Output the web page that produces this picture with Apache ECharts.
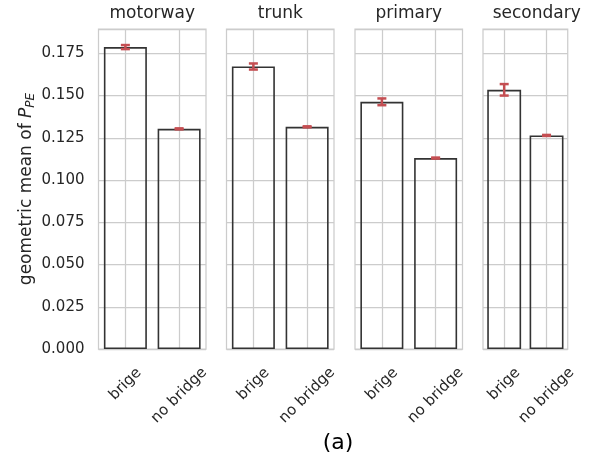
<!DOCTYPE html>
<html>
<head>
<meta charset="utf-8">
<script src="https://cdn.jsdelivr.net/npm/echarts@6/dist/echarts.min.js"></script>
<style>html,body{margin:0;padding:0;background:#fff}#c{width:604px;height:458px}</style>
</head>
<body>
<div id="c"></div>
<script>
const panels = ['motorway', 'trunk', 'primary', 'secondary'];
const categories = ['brige', 'no bridge'];
const brigeMean = [0.1787, 0.1672, 0.1463, 0.1534];
const noBridgeMean = [0.1303, 0.1315, 0.1130, 0.1264];
const brigeErr = [0.0012, 0.0018, 0.0020, 0.0034];
const noBridgeErr = [0.0003, 0.0003, 0.0003, 0.0003];
const yTicks = [0, 0.025, 0.05, 0.075, 0.1, 0.125, 0.15, 0.175];

const FONT = 'DejaVu Sans';
const TXT = '#262626';
const GRIDC = '#cccccc';
const lefts = [98.5, 226.5, 355, 483];
const W = 107.5, TOP = 29, H = 320;
const YMAX = 0.1894;

const chart = echarts.init(document.getElementById('c'), null, {renderer: 'canvas'});

const grids = [], xAxes = [], yAxes = [], series = [], titles = [];
panels.forEach((p, i) => {
  grids.push({left: lefts[i], top: TOP, width: W, height: H, show: true,
    borderColor: GRIDC, borderWidth: 1.25, backgroundColor: 'transparent', containLabel: false});
  titles.push({text: p, left: lefts[i] + W / 2, top: 5, textAlign: 'center', padding: 0,
    textStyle: {fontFamily: FONT, fontSize: 17, fontWeight: 'normal', color: TXT}});
  xAxes.push({type: 'category', gridIndex: i, data: categories,
    axisLine: {show: false}, axisTick: {show: false}, splitLine: {show: false},
    axisLabel: {interval: 0, rotate: 45, margin: 16, align: 'center', verticalAlign: 'middle',
      fontFamily: FONT, fontSize: 15, color: TXT,
      formatter: v => v === 'brige' ? '{a|' + v + '}' : '{b|' + v + '}',
      rich: {
        a: {fontFamily: FONT, fontSize: 15, lineHeight: 15, color: TXT, padding: [27, 27, 0, 0]},
        b: {fontFamily: FONT, fontSize: 15, lineHeight: 15, color: TXT, padding: [43, 43, 0, 0]}
      }}
  });
  const y = {type: 'value', gridIndex: i, min: 0, max: YMAX, interval: 0.025,
    axisLine: {show: false}, axisTick: {show: false},
    splitLine: {show: true, lineStyle: {color: GRIDC, width: 1.25}},
    axisLabel: {show: i === 0, showMaxLabel: false, margin: 14, fontFamily: FONT, fontSize: 15, color: TXT,
      formatter: v => yTicks.some(t => Math.abs(t - v) < 1e-9) ? v.toFixed(3) : ''}
  };
  if (i === 0) {
    y.name = 'geometric mean of {p|P}{s|PE}';
    y.nameLocation = 'middle';
    y.nameGap = 62;
    y.nameTextStyle = {fontFamily: FONT, fontSize: 17, color: TXT,
      rich: {
        p: {fontFamily: FONT, fontSize: 17, fontStyle: 'italic', color: TXT},
        s: {fontFamily: FONT, fontSize: 12, fontStyle: 'italic', color: TXT, verticalAlign: 'bottom', padding: [8, 0, 0, 0]}
      }};
  }
  yAxes.push(y);
  series.push({
    type: 'bar', xAxisIndex: i, yAxisIndex: i, barWidth: '80%', z: 2,
    data: [brigeMean[i], noBridgeMean[i]],
    itemStyle: {color: 'rgba(0,0,0,0)', borderColor: '#333333', borderWidth: 1.6},
    emphasis: {disabled: true},
    markLine: {silent: true, symbol: ['none', 'none'], z: 1, label: {show: false},
      lineStyle: {color: GRIDC, type: 'solid', width: 1.25},
      emphasis: {disabled: true},
      data: [{xAxis: 'brige'}, {xAxis: 'no bridge'}]}
  });
  series.push({
    type: 'custom', xAxisIndex: i, yAxisIndex: i, z: 5,
    data: [[0, brigeMean[i] - brigeErr[i], brigeMean[i] + brigeErr[i]],
           [1, noBridgeMean[i] - noBridgeErr[i], noBridgeMean[i] + noBridgeErr[i]]],
    renderItem: (params, api) => {
      const lo = api.coord([api.value(0), api.value(1)]);
      const hi = api.coord([api.value(0), api.value(2)]);
      const hw = 4.5;
      const st = {stroke: '#C44E52', lineWidth: 2.5};
      return {type: 'group', children: [
        {type: 'line', shape: {x1: lo[0], y1: lo[1], x2: hi[0], y2: hi[1]}, style: st},
        {type: 'line', shape: {x1: lo[0] - hw, y1: lo[1], x2: lo[0] + hw, y2: lo[1]}, style: st},
        {type: 'line', shape: {x1: hi[0] - hw, y1: hi[1], x2: hi[0] + hw, y2: hi[1]}, style: st}
      ]};
    }
  });
});
titles.push({text: '(a)', left: 338, top: 432, textAlign: 'center', padding: 0,
  textStyle: {fontFamily: FONT, fontSize: 22, fontWeight: 'normal', color: '#000'}});

chart.setOption({
  animation: false,
  backgroundColor: '#fff',
  title: titles,
  grid: grids,
  xAxis: xAxes,
  yAxis: yAxes,
  series: series
});
</script>
</body>
</html>
